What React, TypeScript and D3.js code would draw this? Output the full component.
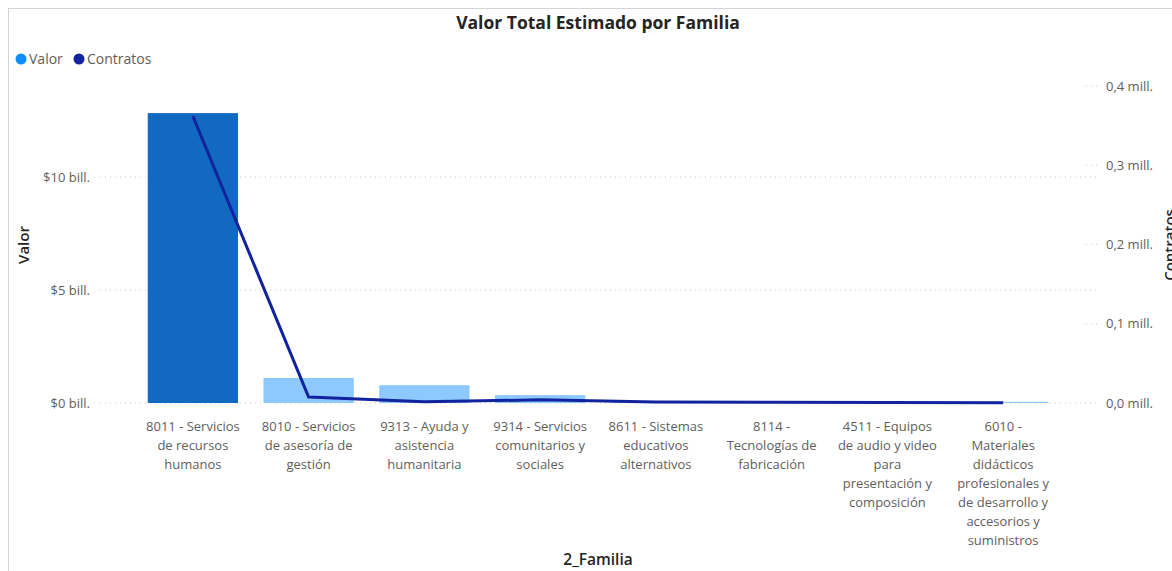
import React from "react";
import * as d3 from "d3";

// categories (line breaks as wrapped in the report)
const categories = [
  "8011 - Servicios\nde recursos\nhumanos",
  "8010 - Servicios\nde asesoría de\ngestión",
  "9313 - Ayuda y\nasistencia\nhumanitaria",
  "9314 - Servicios\ncomunitarios y\nsociales",
  "8611 - Sistemas\neducativos\nalternativos",
  "8114 -\nTecnologías de\nfabricación",
  "4511 - Equipos\nde audio y video\npara\npresentación y\ncomposición",
  "6010 -\nMateriales\ndidácticos\nprofesionales y\nde desarrollo y\naccesorios y\nsuministros",
];

// Valor in billions (bill.)
const valor = [12.83, 1.11, 0.79, 0.35, 0.06, 0.04, 0.03, 0.05];
// Contratos in millions (mill.)
const contratos = [0.362, 0.0075, 0.0015, 0.004, 0.0012, 0.001, 0.0006, 0.0004];

const valorTicks = [0, 5, 10];
const contratosTicks = [0, 0.1, 0.2, 0.3, 0.4];

const W = 1172;
const H = 571;
const FONT = "'Open Sans', 'Noto Sans', sans-serif";

function App() {
  const x = d3
    .scaleBand<number>()
    .domain(d3.range(categories.length))
    .range([135, 1061])
    .paddingInner(0.22)
    .paddingOuter(0.11);

  const yLeft = d3.scaleLinear().domain([0, 14.03]).range([403, 86]);
  const yRight = d3.scaleLinear().domain([0, 0.4]).range([403, 86]);

  const line = d3
    .line<number>()
    .x((_, i) => (x(i) as number) + x.bandwidth() / 2)
    .y((d) => yRight(d));

  const fmtRight = (v: number) => v.toFixed(1).replace(".", ",") + " mill.";

  return (
    <svg
      width={W}
      height={H}
      style={{ position: "absolute", left: 0, top: 0, fontFamily: FONT }}
    >
      <rect x={8.5} y={8.5} width={W + 10} height={H + 10} fill="#fff" stroke="#d4d4d4" />

      <text x={598} y={29} textAnchor="middle" fontSize={17.5} fontWeight={700} fill="#252423">
        Valor Total Estimado por Familia
      </text>

      {/* legend */}
      <circle cx={21} cy={59} r={5.5} fill="#118DFF" />
      <text x={29} y={64} fontSize={14} fill="#605E5C">Valor</text>
      <circle cx={79} cy={59} r={5.5} fill="#12239E" />
      <text x={87} y={64} fontSize={14} fill="#605E5C">Contratos</text>

      {/* grid lines, left axis */}
      {valorTicks.map((t) => (
        <g key={"gl" + t}>
          <line
            x1={100}
            x2={1098}
            y1={yLeft(t)}
            y2={yLeft(t)}
            stroke="#C8C6C4"
            strokeDasharray="1,4"
          />
          <text
            x={90}
            y={yLeft(t) + 4.5}
            textAnchor="end"
            fontSize={13}
            fill="#605E5C"
          >
            {`$${t} bill.`}
          </text>
        </g>
      ))}

      {/* right axis */}
      {contratosTicks.map((t) => (
        <g key={"gr" + t}>
          {t > 0 && (
            <line
              x1={1086}
              x2={1098}
              y1={yRight(t)}
              y2={yRight(t)}
              stroke="#C8C6C4"
              strokeDasharray="1,4"
            />
          )}
          <text x={1106} y={yRight(t) + 4.5} fontSize={13} fill="#605E5C">
            {fmtRight(t)}
          </text>
        </g>
      ))}

      {/* bars */}
      {valor.map((v, i) => (
        <rect
          key={"b" + i}
          x={x(i)}
          y={yLeft(v)}
          width={x.bandwidth()}
          height={yLeft(0) - yLeft(v)}
          fill={i === 0 ? "#1169C0" : "#8DC8FF"}
        />
      ))}

      {/* line */}
      <path d={line(contratos) as string} fill="none" stroke="#12239E" strokeWidth={3} strokeLinejoin="round" />

      {/* category labels */}
      {categories.map((c, i) => (
        <text
          key={"c" + i}
          x={(x(i) as number) + x.bandwidth() / 2}
          y={431}
          textAnchor="middle"
          fontSize={13}
          fill="#605E5C"
        >
          {c.split("\n").map((ln, j) => (
            <tspan key={j} x={(x(i) as number) + x.bandwidth() / 2} dy={j === 0 ? 0 : 19}>
              {ln}
            </tspan>
          ))}
        </text>
      ))}

      {/* axis titles */}
      <text
        transform="translate(29,245) rotate(-90)"
        textAnchor="middle"
        fontSize={15}
        fontWeight={600}
        fill="#252423"
      >
        Valor
      </text>
      <text
        transform="translate(1175,245) rotate(-90)"
        textAnchor="middle"
        fontSize={15}
        fontWeight={600}
        fill="#252423"
      >
        Contratos
      </text>
      <text x={598} y={565} textAnchor="middle" fontSize={15.5} fontWeight={600} fill="#252423">
        2_Familia
      </text>
    </svg>
  );
}

export default App;
